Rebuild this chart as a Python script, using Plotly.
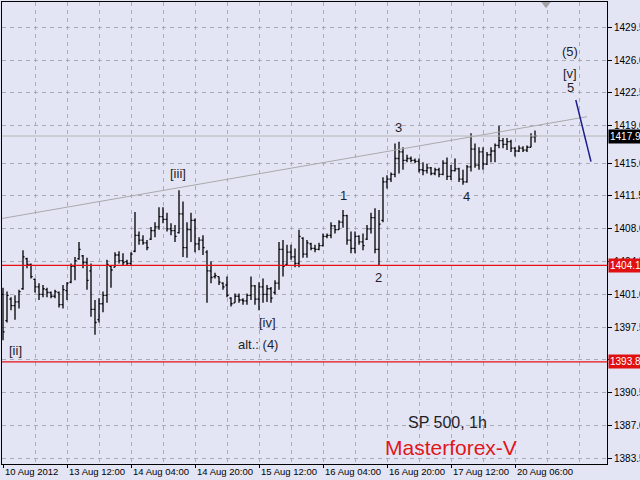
import plotly.graph_objects as go

# ---- data (SP 500, 1h bars) ----
bar_index = list(range(134))
opens = [1401.0,1398.2,1400.5,1399.8,1400.2,1401.6,1404.8,1404.2,1402.6,1401.8,
         1401.0,1401.5,1401.2,1400.8,1401.2,1399.9,1401.4,1402.3,1404.0,1404.8,
         1405.1,1404.4,1403.5,1399.4,1398.3,1400.0,1400.9,1404.0,1403.9,1405.2,
         1404.6,1404.5,1404.3,1405.6,1407.3,1406.8,1406.5,1406.9,1407.8,1408.2,
         1409.3,1409.0,1408.0,1407.8,1407.6,1409.6,1406.0,1407.9,1408.9,1406.4,
         1406.8,1405.5,1403.5,1402.9,1402.9,1402.2,1402.0,1400.6,1400.1,1400.8,
         1400.4,1400.3,1400.9,1401.9,1400.5,1401.8,1401.0,1401.6,1401.2,1402.2,
         1405.8,1404.2,1405.5,1405.0,1404.3,1407.0,1405.3,1406.4,1405.9,1405.8,
         1406.2,1407.2,1407.3,1408.3,1407.9,1408.7,1409.4,1406.8,1405.9,1407.2,
         1406.6,1406.9,1408.0,1409.2,1405.8,1408.9,1413.0,1413.3,1413.8,1415.5,
         1416.2,1415.3,1415.5,1415.3,1415.2,1414.3,1414.2,1414.5,1413.9,1414.3,
         1413.8,1415.0,1413.6,1414.2,1414.4,1413.3,1413.0,1414.6,1416.5,1414.8,
         1416.2,1414.9,1415.9,1416.3,1416.9,1417.4,1417.0,1417.3,1416.6,1416.3,
         1416.6,1416.4,1416.7,1417.8]
highs = [1401.7,1401.3,1400.7,1400.9,1401.5,1405.7,1404.9,1404.3,1402.7,1402.2,
         1402.0,1401.7,1401.3,1401.5,1401.3,1402.0,1402.3,1404.3,1405.0,1406.6,
         1405.2,1404.9,1404.3,1400.4,1400.6,1401.3,1404.7,1404.1,1405.5,1405.6,
         1405.4,1404.7,1405.5,1409.8,1407.7,1407.3,1406.8,1408.2,1408.7,1410.3,
         1410.3,1409.7,1408.6,1408.4,1412.1,1410.9,1408.7,1409.7,1409.1,1407.1,
         1407.3,1405.7,1404.5,1403.3,1402.9,1402.3,1402.9,1400.7,1401.1,1401.1,
         1400.6,1401.1,1402.9,1402.0,1402.3,1402.7,1402.0,1401.8,1402.5,1406.6,
         1406.8,1406.3,1406.3,1405.9,1407.9,1407.1,1406.8,1406.5,1406.3,1406.5,
         1407.5,1407.5,1408.7,1408.4,1408.9,1410.0,1409.5,1407.7,1407.7,1407.3,
         1407.5,1408.4,1409.7,1410.2,1410.0,1413.5,1413.7,1414.0,1417.1,1417.3,
         1416.7,1415.9,1415.7,1415.5,1415.5,1415.1,1414.9,1414.6,1414.5,1414.5,
         1415.3,1415.6,1414.8,1415.5,1414.5,1414.3,1414.8,1418.2,1417.1,1416.7,
         1416.7,1416.2,1416.7,1417.1,1419.0,1417.7,1417.7,1417.5,1416.7,1416.9,
         1416.8,1416.9,1418.2,1418.5]
lows = [1396.1,1398.0,1399.3,1398.3,1399.5,1401.5,1403.8,1402.7,1401.2,1400.4,
        1400.7,1400.7,1400.6,1400.6,1399.6,1399.5,1400.4,1402.2,1402.5,1404.7,
        1403.8,1401.5,1398.6,1396.7,1398.0,1399.1,1400.1,1401.7,1403.9,1404.3,
        1404.1,1404.1,1404.1,1405.5,1406.3,1406.3,1405.7,1406.8,1407.1,1407.9,
        1408.6,1407.7,1407.3,1406.6,1407.5,1405.0,1404.9,1406.6,1405.5,1405.7,
        1405.2,1400.1,1402.2,1402.7,1402.0,1401.5,1400.7,1399.7,1400.1,1400.1,
        1399.9,1399.9,1400.4,1399.9,1399.3,1400.1,1400.2,1400.1,1401.0,1401.5,
        1402.9,1404.1,1404.7,1403.9,1403.9,1404.9,1404.9,1405.7,1405.5,1405.7,
        1406.1,1407.0,1407.0,1407.5,1407.9,1408.1,1406.3,1405.4,1405.4,1406.3,
        1405.7,1406.8,1407.5,1405.4,1404.1,1408.7,1412.3,1413.0,1413.5,1413.9,
        1414.3,1415.1,1415.1,1415.0,1414.0,1413.7,1413.9,1413.7,1413.7,1413.5,
        1413.7,1413.2,1413.2,1414.1,1413.0,1412.7,1412.9,1414.1,1414.5,1414.3,
        1414.3,1414.8,1415.1,1415.1,1416.6,1416.6,1416.4,1416.2,1415.7,1416.2,
        1416.2,1416.2,1416.7,1417.2]
closes = [1397.0,1400.9,1399.8,1400.2,1401.3,1405.0,1404.2,1402.9,1401.8,1401.0,
          1401.6,1401.2,1400.8,1401.3,1399.9,1401.5,1402.2,1404.0,1404.6,1405.8,
          1404.4,1402.5,1399.4,1398.0,1400.0,1400.9,1404.2,1403.6,1405.2,1404.6,
          1404.4,1404.3,1405.3,1407.3,1406.8,1406.5,1406.0,1407.8,1408.2,1409.3,
          1409.0,1408.0,1407.8,1407.2,1409.6,1406.0,1407.9,1408.9,1406.4,1406.8,
          1406.0,1403.5,1402.8,1403.0,1402.3,1401.8,1400.9,1400.0,1400.8,1400.4,
          1400.3,1400.9,1401.9,1400.5,1401.8,1401.0,1401.6,1400.6,1402.2,1405.8,
          1404.0,1405.5,1405.0,1404.3,1407.2,1405.3,1406.5,1405.9,1405.8,1406.2,
          1407.2,1407.3,1408.3,1407.9,1408.7,1409.4,1406.8,1405.9,1407.2,1406.6,
          1406.2,1408.0,1409.2,1405.8,1408.5,1413.0,1413.3,1413.8,1415.5,1416.2,
          1415.3,1415.5,1415.3,1415.2,1414.3,1414.2,1414.5,1413.9,1414.3,1413.8,
          1415.0,1413.6,1414.2,1414.4,1413.3,1413.0,1414.6,1416.5,1414.8,1416.2,
          1414.9,1415.9,1416.3,1416.9,1417.4,1417.0,1417.3,1416.6,1416.3,1416.6,
          1416.4,1416.7,1417.8,1417.9]

time_tick_pos = [0, 16, 32, 48, 64, 80, 96, 112, 128]
time_tick_labels = ["10 Aug 2012", "13 Aug 12:00", "14 Aug 04:00", "14 Aug 20:00",
                    "15 Aug 12:00", "16 Aug 04:00", "16 Aug 20:00", "17 Aug 12:00",
                    "20 Aug 06:00"]
price_tick_vals = [1383.5, 1387.0, 1390.5, 1394.0, 1397.5, 1401.0, 1404.5,
                   1408.0, 1411.5, 1415.0, 1419.0, 1422.5, 1426.0, 1429.5]
price_tick_text = ["1383.5", "1387.0", "1390.5", "", "1397.5", "1401.0", "1404.5",
                   "1408.0", "1411.5", "1415.0", "1419.0", "1422.5", "1426.0", "1429.5"]

support_levels = [1404.1, 1393.8]
last_price = 1417.9
trend_x = [-0.25, 146.0]
trend_y = [1409.1, 1419.96]
proj_x = [143.2, 147.0]
proj_y = [1421.74, 1415.16]

wave_labels = ["[ii]", "[iii]", "[iv]", "alt.: (4)", "1", "2", "3", "4", "(5)", "[v]", "5"]
wave_x = [3.0, 43.75, 66.0, 63.75, 85.0, 93.75, 98.75, 115.75, 141.75, 141.75, 141.75]
wave_y = [1395.06, 1413.95, 1398.05, 1395.6, 1411.5, 1402.75, 1418.86, 1411.4,
          1426.87, 1424.62, 1423.13]

BG = "#E3E5F5"
GRID = "#ABABB8"
FONT = "Liberation Sans, Arial, sans-serif"
AXFONT = "Liberation Sans, Arial, sans-serif"

fig = go.Figure()

fig.add_trace(go.Scatter(x=trend_x, y=trend_y, mode="lines",
                         line=dict(color="#A9A9A9", width=1), hoverinfo="skip",
                         showlegend=False))
fig.add_trace(go.Scatter(x=[-0.25, 151.0], y=[last_price, last_price], mode="lines",
                         line=dict(color="#B4B4B4", width=1), hoverinfo="skip",
                         showlegend=False))
for lvl in support_levels:
    fig.add_trace(go.Scatter(x=[-0.25, 151.0], y=[lvl, lvl], mode="lines",
                             line=dict(color="#E81010", width=1.2), hoverinfo="skip",
                             showlegend=False))

fig.add_trace(go.Ohlc(x=bar_index, open=opens, high=highs, low=lows, close=closes,
                      increasing=dict(line=dict(color="black", width=1.3)),
                      decreasing=dict(line=dict(color="black", width=1.3)),
                      tickwidth=0.4, hoverinfo="skip", showlegend=False))

fig.add_trace(go.Scatter(x=proj_x, y=proj_y, mode="lines",
                         line=dict(color="#1C1C8C", width=1.5), hoverinfo="skip",
                         showlegend=False))

fig.add_trace(go.Scatter(x=[135.75], y=[1432.0], mode="markers",
                         marker=dict(symbol="triangle-down", size=9, color="#A4A4A8"),
                         cliponaxis=False, hoverinfo="skip", showlegend=False))

annotations = []
for t, x, y in zip(wave_labels, wave_x, wave_y):
    annotations.append(dict(x=x, y=y, xref="x", yref="y", text=t, showarrow=False,
                            font=dict(family=FONT, size=13, color="#1E1E28")))

annotations.append(dict(x=111, y=1387.38, xref="x", yref="y", text="SP 500, 1h",
                        showarrow=False, font=dict(family=FONT, size=16, color="#1E1E28")))
annotations.append(dict(x=112, y=1384.7, xref="x", yref="y", text="Masterforex-V",
                        showarrow=False, font=dict(family=FONT, size=21, color="#E0161A")))

for pos, lab in zip(time_tick_pos, time_tick_labels):
    annotations.append(dict(x=pos - 0.1, y=0, xref="x", yref="paper", text=lab,
                            showarrow=False, xanchor="left", yanchor="top", yshift=0,
                            font=dict(family=AXFONT, size=9.5, color="black")))

for lvl, bgc in [(1404.1, "#E01010"), (1393.8, "#E01010"), (last_price, "black")]:
    annotations.append(dict(x=1, y=lvl, xref="paper", yref="y", text=f"{lvl:.1f}",
                            showarrow=False, xanchor="left", yanchor="middle", xshift=1,
                            bgcolor=bgc, borderpad=1,
                            font=dict(family=AXFONT, size=10, color="white")))

fig.update_layout(
    width=640, height=480,
    margin=dict(l=2, r=33, t=2, b=16),
    paper_bgcolor=BG, plot_bgcolor=BG,
    showlegend=False,
    annotations=annotations,
    xaxis=dict(range=[-0.25, 151.0], rangeslider=dict(visible=False),
               tickvals=time_tick_pos, showticklabels=False, automargin=False,
               ticks="outside", ticklen=3, tickcolor="black",
               showgrid=True, gridcolor=GRID, griddash="4px,4px", gridwidth=1,
               minor=dict(tickvals=[8, 24, 40, 56, 72, 88, 104, 120, 136, 144],
                          showgrid=True, gridcolor=GRID, griddash="4px,4px", ticks=""),
               showline=True, linecolor="black", linewidth=1, mirror=True,
               zeroline=False, fixedrange=True),
    yaxis=dict(range=[1382.9, 1432.2], side="right", automargin=False,
               tickvals=price_tick_vals, ticktext=price_tick_text,
               ticks="outside", ticklen=4, tickcolor="black",
               tickfont=dict(family=AXFONT, size=10, color="black"),
               showgrid=True, gridcolor=GRID, griddash="4px,4px", gridwidth=1,
               showline=True, linecolor="black", linewidth=1, mirror=True,
               zeroline=False, fixedrange=True),
)

fig.write_html("out.html", config={"displayModeBar": False},
               post_script="document.body.style.margin='0px';document.body.style.background='" + BG + "';")
